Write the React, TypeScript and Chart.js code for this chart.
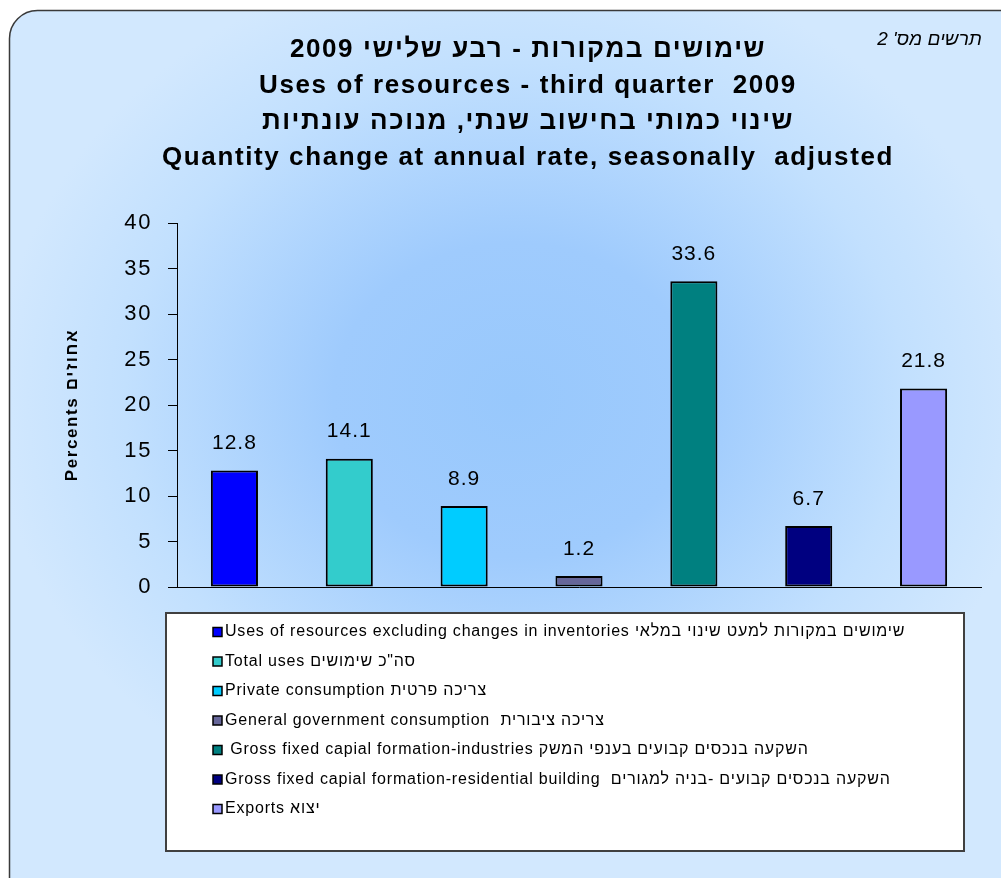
import React, { useEffect, useRef } from 'react';
import { Chart, registerables } from 'chart.js';

Chart.register(...registerables);

const FONT = '"Liberation Sans", Arial, sans-serif';

const categories: string[] = [
  'Uses of resources excluding changes in inventories שימושים במקורות למעט שינוי במלאי',
  'Total uses סה"כ שימושים',
  'Private consumption צריכה פרטית',
  'General government consumption  צריכה ציבורית',
  ' Gross fixed capial formation-industries השקעה בנכסים קבועים בענפי המשק',
  'Gross fixed capial formation-residential building  השקעה בנכסים קבועים -בניה למגורים',
  'Exports יצוא',
];
const values: number[] = [12.8, 14.1, 8.9, 1.2, 33.6, 6.7, 21.8];
const colors: string[] = ['#0000ff', '#33cccc', '#00ccff', '#666699', '#008080', '#000080', '#9999ff'];
const titleLines: string[] = [
  'שימושים במקורות - רבע שלישי 2009',
  'Uses of resources - third quarter  2009',
  'שינוי כמותי בחישוב שנתי, מנוכה עונתיות',
  'Quantity change at annual rate, seasonally  adjusted',
];
const yTitle = 'Percents אחוזים';
const cornerLabel = "תרשים מס' 2";
const yMin = 0;
const yMax = 40;
const yStep = 5;

const backgroundPlugin = {
  id: 'bgPanel',
  beforeDraw(chart: any) {
    const { ctx, width, height } = chart;
    ctx.save();
    ctx.fillStyle = '#ffffff';
    ctx.fillRect(0, 0, width, height);
    ctx.beginPath();
    ctx.roundRect(9.5, 10.5, width + 20, height + 20, 28);
    ctx.save();
    const cx = 515, cy = 400, rx = 520, ry = 450;
    ctx.translate(cx, cy);
    ctx.scale(1, ry / rx);
    const g = ctx.createRadialGradient(0, 0, 0, 0, 0, rx);
    g.addColorStop(0, '#98c8fc');
    g.addColorStop(0.35, '#9fcbfd');
    g.addColorStop(0.75, '#c2e0fe');
    g.addColorStop(1, '#d2e8fe');
    ctx.fillStyle = g;
    ctx.fill();
    ctx.restore();
    ctx.strokeStyle = '#3a3a3a';
    ctx.lineWidth = 1.5;
    ctx.stroke();
    ctx.font = `italic 19px ${FONT}`;
    ctx.fillStyle = '#000';
    ctx.textAlign = 'right';
    ctx.textBaseline = 'middle';
    ctx.fillText(cornerLabel, 982, 40);
    ctx.restore();
    ctx.letterSpacing = '1.6px';
  },
  beforeDatasetsDraw(chart: any) {
    chart.ctx.letterSpacing = '0px';
  },
};

const valueLabelPlugin = {
  id: 'valueLabels',
  afterDatasetsDraw(chart: any) {
    const { ctx } = chart;
    const meta = chart.getDatasetMeta(0);
    ctx.save();
    ctx.font = `21px ${FONT}`;
    ctx.letterSpacing = '1px';
    ctx.fillStyle = '#000';
    ctx.textAlign = 'center';
    ctx.textBaseline = 'middle';
    meta.data.forEach((bar: any, i: number) => {
      ctx.fillText(values[i].toFixed(1), bar.x, bar.y - 27);
    });
    ctx.restore();
  },
};

const legendPlugin = {
  id: 'boxLegend',
  afterDraw(chart: any) {
    const { ctx, chartArea, height } = chart;
    const left = chartArea.left - 11;
    const top = chartArea.bottom + 26;
    const right = chartArea.right - 17;
    const bottom = height - 27;
    ctx.save();
    ctx.fillStyle = '#ffffff';
    ctx.fillRect(left, top, right - left, bottom - top);
    ctx.strokeStyle = '#404040';
    ctx.lineWidth = 2;
    ctx.strokeRect(left, top, right - left, bottom - top);
    ctx.font = `16px ${FONT}`;
    ctx.letterSpacing = '0.8px';
    ctx.textAlign = 'left';
    ctx.textBaseline = 'middle';
    categories.forEach((c, i) => {
      const y = top + 19 + i * 29.5;
      const bx = left + 47;
      ctx.fillStyle = colors[i];
      ctx.fillRect(bx, y - 4.5, 9, 9);
      ctx.strokeStyle = '#000';
      ctx.lineWidth = 1.5;
      ctx.strokeRect(bx, y - 4.5, 9, 9);
      ctx.fillStyle = '#000';
      ctx.fillText(c, bx + 12, y);
    });
    ctx.restore();
  },
};

export default function App() {
  const ref = useRef<HTMLCanvasElement | null>(null);
  useEffect(() => {
    if (!ref.current) return;
    const chart = new Chart(ref.current, {
      type: 'bar',
      data: {
        labels: categories,
        datasets: [
          {
            data: values,
            backgroundColor: colors,
            borderColor: '#000',
            borderWidth: 2,
            borderSkipped: false,
            barPercentage: 0.41,
            categoryPercentage: 1,
          },
        ],
      },
      options: {
        responsive: false,
        animation: false,
        devicePixelRatio: 1,
        layout: { padding: { left: 75, right: 20, top: 0, bottom: 291 } },
        plugins: {
          legend: { display: false },
          tooltip: { enabled: false },
          title: {
            display: true,
            text: titleLines,
            color: '#000',
            font: { family: FONT, size: 26, weight: 'bold', lineHeight: '36px' },
            padding: { top: 32, bottom: 47 },
          },
        },
        scales: {
          x: {
            grid: { display: false, drawTicks: false },
            ticks: { display: false },
            border: { display: true, color: '#000', width: 1 },
          },
          y: {
            min: yMin,
            max: yMax,
            ticks: { stepSize: yStep, color: '#000', font: { family: FONT, size: 22 }, padding: 16 },
            grid: { display: true, drawOnChartArea: false, drawTicks: true, tickLength: 9, color: '#000' },
            border: { display: true, color: '#000', width: 1 },
            title: {
              display: true,
              text: yTitle,
              color: '#000',
              font: { family: FONT, size: 17, weight: 'bold' },
              padding: { top: -13, bottom: 0 },
            },
            afterFit: (s: any) => {
              s.width = 102;
            },
          },
        },
      },
      plugins: [backgroundPlugin, valueLabelPlugin, legendPlugin],
    } as any);
    return () => chart.destroy();
  }, []);
  return (
    <div style={{ position: 'absolute', left: 0, top: 0, width: 1001, height: 878 }}>
      <canvas ref={ref} width={1001} height={878} />
    </div>
  );
}
